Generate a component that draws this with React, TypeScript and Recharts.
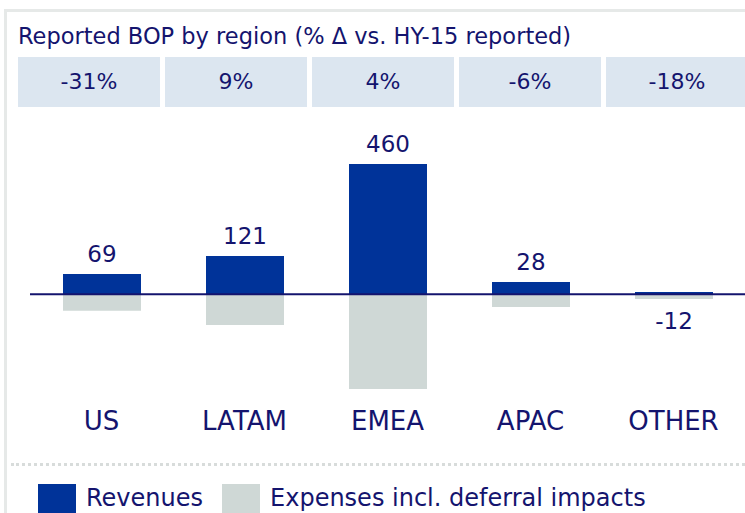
import { BarChart, Bar, XAxis, YAxis, ReferenceLine, LabelList } from "recharts"

const regions = ["US", "LATAM", "EMEA", "APAC", "OTHER"]
const revenues = [265, 500, 1695, 160, 30]
const expenses = [-215, -400, -1230, -165, -60]
const bop = [69, 121, 460, 28, -12]
const bopChange = ["-31%", "9%", "4%", "-6%", "-18%"]
const seriesNames = ["Revenues", "Expenses incl. deferral impacts"]

const NAVY = "#14146e"
const BLUE = "#003399"
const GREY = "#cfd8d6"
const FONT = "'DejaVu Sans', sans-serif"

const data = regions.map((region, i) => ({
  region,
  revenue: revenues[i],
  expense: expenses[i],
  bop: bop[i],
}))

const TopLabel = (props: any) => {
  const { viewBox, value } = props
  if (value < 0) return null
  const top = Math.min(viewBox.y, viewBox.y + viewBox.height)
  return (
    <text x={viewBox.x + viewBox.width / 2} y={top - 12} textAnchor="middle" fill={NAVY} fontSize={23} fontFamily={FONT}>
      {value}
    </text>
  )
}

const BottomLabel = (props: any) => {
  const { viewBox, value } = props
  if (value >= 0) return null
  const bottom = Math.max(viewBox.y, viewBox.y + viewBox.height)
  return (
    <text x={viewBox.x + viewBox.width / 2} y={bottom + 30} textAnchor="middle" fill={NAVY} fontSize={23} fontFamily={FONT}>
      {value}
    </text>
  )
}

const RegionTick = ({ x, y, payload }: any) => (
  <text x={x} y={y} dy={20} textAnchor="middle" fill={NAVY} fontSize={26} fontFamily={FONT}>
    {payload.value}
  </text>
)

export default function App() {
  const colors = [BLUE, GREY]
  return (
    <div style={{ position: "fixed", left: 0, top: 0, width: 745, height: 513, background: "#fff", overflow: "hidden", fontFamily: FONT }}>
      {/* frame */}
      <div style={{ position: "absolute", left: 4, top: 9, right: 0, height: 3, background: "#e6e9e8" }} />
      <div style={{ position: "absolute", left: 4, top: 9, width: 3, bottom: 0, background: "#e6e9e8" }} />

      <div style={{ position: "absolute", left: 18, top: 21, height: 30, lineHeight: "30px", fontSize: 22.5, color: NAVY, whiteSpace: "nowrap" }}>
        Reported BOP by region (% &Delta; vs. HY-15 reported)
      </div>

      {bopChange.map((p, i) => (
        <div
          key={i}
          style={{
            position: "absolute",
            left: 18 + i * 147,
            top: 57,
            width: 142,
            height: 50,
            background: "#dce6f0",
            color: NAVY,
            fontSize: 22,
            lineHeight: "50px",
            textAlign: "center",
          }}
        >
          {p}
        </div>
      ))}

      <div style={{ position: "absolute", left: 0, top: 0 }}>
        <BarChart width={745} height={513} data={data} stackOffset="sign" margin={{ top: 129, right: 0, bottom: 81, left: 30 }}>
          <YAxis hide domain={[-1400, 2150]} />
          <XAxis dataKey="region" axisLine={false} tickLine={false} height={30} tick={<RegionTick />} interval={0} />
          <Bar dataKey="revenue" stackId="a" fill={BLUE} barSize={78} isAnimationActive={false}>
            <LabelList dataKey="bop" content={<TopLabel />} />
          </Bar>
          <Bar dataKey="expense" stackId="a" fill={GREY} barSize={78} isAnimationActive={false}>
            <LabelList dataKey="bop" content={<BottomLabel />} />
          </Bar>
          <ReferenceLine y={0} stroke={NAVY} strokeWidth={2} />
        </BarChart>
      </div>

      <div style={{ position: "absolute", left: 11, right: 0, top: 463, borderTop: "3px dotted #d8dcdb" }} />

      <div style={{ position: "absolute", left: 38, top: 484, height: 29, display: "flex", alignItems: "center", fontSize: 24, color: NAVY, whiteSpace: "nowrap" }}>
        {seriesNames.map((name, i) => (
          <div key={name} style={{ display: "flex", alignItems: "center", marginRight: 19 }}>
            <div style={{ width: 38, height: 32, marginTop: 3, background: colors[i], marginRight: 10 }} />
            <span style={{ lineHeight: "29px" }}>{name}</span>
          </div>
        ))}
      </div>
    </div>
  )
}
